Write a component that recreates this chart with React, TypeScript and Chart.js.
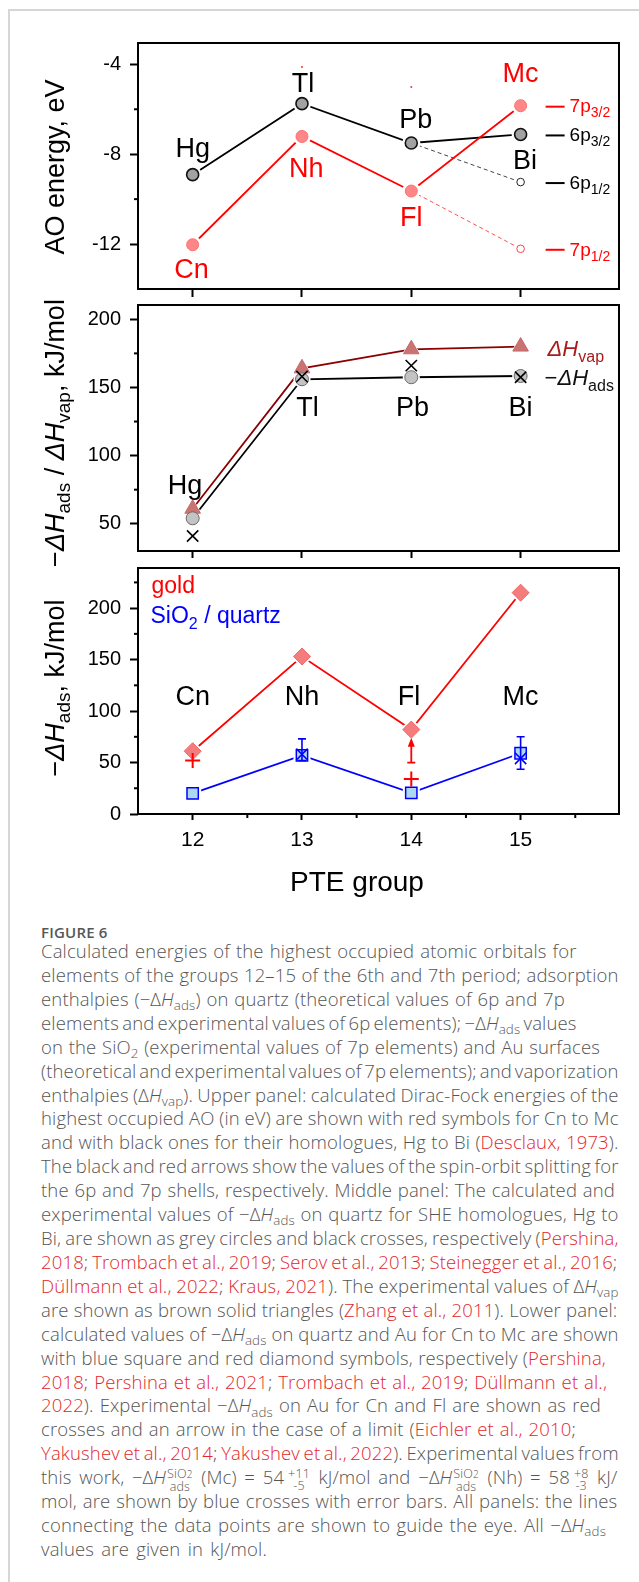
import React, { useEffect, useLayoutEffect, useRef } from 'react';
import { Chart, registerables } from 'chart.js';

Chart.register(...registerables);

const FONT = '"Liberation Sans", Arial, Helvetica, sans-serif';
const CAPTION_FONT = '"Open Sans", "Noto Sans", Lato, sans-serif';

// ---------- shared x axis (PTE group) ----------
const groups = [12, 13, 14, 15];
const groupMinorTicks = [12.5, 13.5, 14.5, 15.5];
const homologues = ['Hg', 'Tl', 'Pb', 'Bi'];
const superheavies = ['Cn', 'Nh', 'Fl', 'Mc'];

// ---------- panel 1: AO energy, eV ----------
const aoHomologues = [-8.91, -5.75, -7.5, -7.12]; // Hg 6s, Tl/Pb/Bi 6p (3/2 for Bi)
const aoSuperheavies = [-12.03, -7.21, -9.64, -5.84]; // Cn 7s, Nh/Fl/Mc 7p (3/2 for Mc)
const aoBi6p12 = -9.24;
const aoMc7p12 = -12.21;
const aoTraceGroups = [13, 14];
const aoTraceValues = [-4.12, -5.01];
const aoTicks = [-12, -8, -4];
const aoMinorTicks = [-10, -6];

// ---------- panel 2: -dH ads / dH vap, kJ/mol ----------
const vapHomologues = [61, 164, 178, 180];
const adsCalcHomologues = [54, 156, 157.5, 158.4];
const adsExpHomologues = [41, 158, 166, 157.5];
const midTicks = [50, 100, 150, 200];
const midMinorTicks = [75, 125, 175];

// ---------- panel 3: -dH ads, kJ/mol ----------
const adsAuCalc = [61, 153, 82, 215];
const adsSiO2Calc = [20, 57, 20.5, 59];
const adsAuExpGroups = [12, 14];
const adsAuExpValues = [52, 34];
const flAuLimitBase = 50;
const flAuLimitTip = 74;
const adsSiO2ExpGroups = [13, 15];
const adsSiO2ExpValues = [58, 54];
const adsSiO2ExpUpper = [73, 75];
const adsSiO2ExpLower = [52, 43.5];
const lowTicks = [0, 50, 100, 150, 200];
const lowMinorTicks = [25, 75, 125, 175, 225];

type Run = { t: string; size: number; italic?: boolean; dy?: number; color?: string };

function fontStr(r: Run) {
  return `${r.italic ? 'italic ' : ''}${r.size}px ${FONT}`;
}

function drawRuns(
  ctx: CanvasRenderingContext2D,
  runs: Run[],
  x: number,
  y: number,
  opts: { align?: 'left' | 'center'; rotate?: boolean; color?: string; cap: number }
) {
  ctx.save();
  ctx.translate(x, y);
  if (opts.rotate) ctx.rotate(-Math.PI / 2);
  const widths = runs.map((r) => {
    ctx.font = fontStr(r);
    return ctx.measureText(r.t).width;
  });
  const total = widths.reduce((a, b) => a + b, 0);
  let cx = opts.align === 'center' ? -total / 2 : 0;
  const base = 0.358 * opts.cap;
  ctx.textBaseline = 'alphabetic';
  ctx.textAlign = 'left';
  runs.forEach((r, i) => {
    ctx.font = fontStr(r);
    ctx.fillStyle = r.color || opts.color || '#000';
    ctx.fillText(r.t, cx, base + (r.dy || 0));
    cx += widths[i];
  });
  ctx.restore();
}

function drawFrame(chart: any) {
  const { ctx, chartArea: a } = chart;
  ctx.save();
  ctx.strokeStyle = '#000';
  ctx.lineWidth = 2;
  ctx.strokeRect(a.left, a.top, a.right - a.left, a.bottom - a.top);
  ctx.restore();
}

function drawMinorY(chart: any, values: number[], len = 4) {
  const { ctx, chartArea: a } = chart;
  const ys = chart.scales.y;
  ctx.save();
  ctx.strokeStyle = '#000';
  ctx.lineWidth = 2;
  values.forEach((v) => {
    const y = ys.getPixelForValue(v);
    ctx.beginPath();
    ctx.moveTo(a.left - len, y);
    ctx.lineTo(a.left, y);
    ctx.stroke();
  });
  ctx.restore();
}

function drawMinorX(chart: any, values: number[], len = 4) {
  const { ctx, chartArea: a } = chart;
  const xs = chart.scales.x;
  ctx.save();
  ctx.strokeStyle = '#000';
  ctx.lineWidth = 2;
  values.forEach((v) => {
    const x = xs.getPixelForValue(v);
    ctx.beginPath();
    ctx.moveTo(x, a.bottom);
    ctx.lineTo(x, a.bottom + len);
    ctx.stroke();
  });
  ctx.restore();
}

function drawLabel(chart: any, text: string, gx: number, v: number, color: string, size = 27) {
  const { ctx } = chart;
  const x = chart.scales.x.getPixelForValue(gx);
  const y = chart.scales.y.getPixelForValue(v);
  ctx.save();
  ctx.font = `${size}px ${FONT}`;
  ctx.fillStyle = color;
  ctx.textAlign = 'center';
  ctx.textBaseline = 'alphabetic';
  ctx.fillText(text, x, y + 0.358 * size);
  ctx.restore();
}

function pts(xs: number[], ys: number[]) {
  return xs.map((x, i) => ({ x, y: ys[i] }));
}

// a line without symbols
function lineDs(data: any[], color: string, width: number, dash: number[] = []) {
  return { data, showLine: true, borderColor: color, borderWidth: width, borderDash: dash, pointRadius: 0 };
}
// white halo under a symbol: gives the "gap to symbol" look of the original
function haloDs(data: any[], style: string, radius: number | number[]) {
  return {
    data,
    showLine: false,
    pointStyle: style,
    pointRadius: radius,
    pointBackgroundColor: '#fff',
    pointBorderColor: '#fff',
    pointBorderWidth: 0,
  };
}
function markerDs(data: any[], style: string, radius: number | number[], fill: string, stroke: string, bw: number) {
  return {
    data,
    showLine: false,
    pointStyle: style,
    pointRadius: radius,
    pointBackgroundColor: fill,
    pointBorderColor: stroke,
    pointBorderWidth: bw,
  };
}

function baseOptions(o: {
  yMin: number;
  yMax: number;
  yTicks: number[];
  showX: boolean;
  chartTop: number;
  chartBottom: number;
  canvasH: number;
  xTickLen: number;
}) {
  return {
    responsive: false,
    animation: false,
    devicePixelRatio: 1,
    events: [],
    layout: { autoPadding: false, padding: { left: 0, right: 20, top: o.chartTop, bottom: 0 } },
    plugins: { legend: { display: false }, tooltip: { enabled: false } },
    scales: {
      x: {
        type: 'linear',
        min: 11.5,
        max: 15.9,
        afterBuildTicks: (s: any) => {
          s.ticks = groups.map((v) => ({ value: v }));
        },
        afterFit: (s: any) => {
          s.height = o.canvasH - o.chartBottom;
        },
        ticks: {
          display: o.showX,
          font: { family: FONT, size: 21 },
          color: '#000',
          padding: 8,
          maxRotation: 0,
          autoSkip: false,
          callback: (v: any) => String(v),
        },
        grid: {
          display: true,
          drawOnChartArea: false,
          drawTicks: true,
          tickLength: o.xTickLen,
          tickWidth: 2,
          tickColor: '#000',
        },
        border: { display: false },
      },
      y: {
        type: 'linear',
        min: o.yMin,
        max: o.yMax,
        afterBuildTicks: (s: any) => {
          s.ticks = o.yTicks.map((v) => ({ value: v }));
        },
        afterFit: (s: any) => {
          s.width = 138;
        },
        ticks: {
          font: { family: FONT, size: 20 },
          color: '#000',
          padding: 9,
          autoSkip: false,
          callback: (v: any) => String(v),
        },
        grid: {
          display: true,
          drawOnChartArea: false,
          drawTicks: true,
          tickLength: 8,
          tickWidth: 2,
          tickColor: '#000',
        },
        border: { display: false },
      },
    },
  };
}

// ---------------- canvas placement (page pixels) ----------------
const P1 = { top: 0, height: 320, chartTop: 43, chartBottom: 289 };
const P2 = { top: 278, height: 300, chartTop: 27, chartBottom: 273 };
const P3 = { top: 538, height: 362, chartTop: 30, chartBottom: 276 };

function panel1Config(): any {
  const orbitalLabels = [
    { main: '7p', sub: '3/2', color: '#ff0000', v: aoSuperheavies[3] },
    { main: '6p', sub: '3/2', color: '#000', v: aoHomologues[3] },
    { main: '6p', sub: '1/2', color: '#000', v: aoBi6p12 },
    { main: '7p', sub: '1/2', color: '#ff0000', v: aoMc7p12 },
  ];
  const homLabelAt = [
    [12.0, -7.7],
    [13.01, -4.8],
    [14.04, -6.42],
    [15.04, -8.24],
  ];
  const sheLabelAt = [
    [11.99, -13.1],
    [13.04, -8.57],
    [14.0, -10.77],
    [15.0, -4.34],
  ];
  const she = pts(groups, aoSuperheavies);
  const hom = pts(groups, aoHomologues);
  const red12 = pts([14, 15], [aoSuperheavies[2], aoMc7p12]);
  const blk12 = pts([14, 15], [aoHomologues[2], aoBi6p12]);
  return {
    type: 'scatter',
    data: {
      datasets: [
        markerDs(pts(aoTraceGroups, aoTraceValues), 'circle', 1, '#ff3030', '#ff3030', 0),
        markerDs(she, 'circle', 6, '#ff8686', '#ff7070', 1),
        markerDs(hom, 'circle', 6, '#a2a2a2', '#111', 1.6),
        markerDs(red12, 'circle', [0, 3.8], '#fff', '#ff4040', 1),
        markerDs(blk12, 'circle', [0, 3.8], '#fff', '#222', 1),
        haloDs(she, 'circle', 9),
        haloDs(hom, 'circle', 9),
        haloDs(red12, 'circle', [9, 6]),
        haloDs(blk12, 'circle', [9, 6]),
        lineDs(she, '#ff0000', 1.8),
        lineDs(hom, '#000', 1.8),
        lineDs(red12, '#ff5050', 1, [4, 3]),
        lineDs(blk12, '#444', 1, [4, 3]),
      ],
    },
    options: baseOptions({
      yMin: -14,
      yMax: -3.05,
      yTicks: aoTicks,
      showX: false,
      chartTop: P1.chartTop,
      chartBottom: P1.chartBottom,
      canvasH: P1.height,
      xTickLen: 8,
    }),
    plugins: [
      {
        id: 'p1',
        afterDraw(chart: any) {
          const { ctx } = chart;
          drawFrame(chart);
          drawMinorY(chart, aoMinorTicks);
          homologues.forEach((t, i) => drawLabel(chart, t, homLabelAt[i][0], homLabelAt[i][1], '#000'));
          superheavies.forEach((t, i) => drawLabel(chart, t, sheLabelAt[i][0], sheLabelAt[i][1], '#ff0000'));
          const x15 = chart.scales.x.getPixelForValue(15);
          orbitalLabels.forEach((l) => {
            const y = chart.scales.y.getPixelForValue(l.v);
            ctx.save();
            ctx.strokeStyle = l.color;
            ctx.lineWidth = 2;
            ctx.beginPath();
            ctx.moveTo(x15 + 25, y + 1);
            ctx.lineTo(x15 + 44, y + 1);
            ctx.stroke();
            ctx.restore();
            drawRuns(
              ctx,
              [
                { t: l.main, size: 19 },
                { t: l.sub, size: 14, dy: 5 },
              ],
              x15 + 49,
              y,
              { color: l.color, cap: 19 }
            );
          });
          drawRuns(ctx, [{ t: 'AO energy, eV', size: 27 }], 54, 167 - P1.top, {
            align: 'center',
            rotate: true,
            cap: 27,
          });
        },
      },
    ],
  };
}

function panel2Config(): any {
  const labelAt = [
    [11.93, 79],
    [13.05, 136],
    [14.01, 136],
    [15.0, 136],
  ];
  const vap = pts(groups, vapHomologues);
  const calc = pts(groups, adsCalcHomologues);
  return {
    type: 'scatter',
    data: {
      datasets: [
        markerDs(pts(groups, adsExpHomologues), 'crossRot', 8, '#000', '#000', 1.6),
        markerDs(calc, 'circle', 6.5, '#c3c3c3', '#6a6a6a', 1),
        markerDs(vap, 'triangle', 9, '#c97373', '#c46a6a', 1),
        haloDs(calc, 'circle', 8.5),
        haloDs(vap, 'triangle', 11),
        lineDs(calc, '#000', 1.8),
        lineDs(vap, '#8b0000', 1.8),
      ],
    },
    options: baseOptions({
      yMin: 30,
      yMax: 210.5,
      yTicks: midTicks,
      showX: false,
      chartTop: P2.chartTop,
      chartBottom: P2.chartBottom,
      canvasH: P2.height,
      xTickLen: 7,
    }),
    plugins: [
      {
        id: 'p2',
        afterDraw(chart: any) {
          const { ctx } = chart;
          drawFrame(chart);
          drawMinorY(chart, midMinorTicks);
          homologues.forEach((t, i) => drawLabel(chart, t, labelAt[i][0], labelAt[i][1], '#000'));
          const x15 = chart.scales.x.getPixelForValue(15);
          const yVap = chart.scales.y.getPixelForValue(vapHomologues[3]);
          const yAds = chart.scales.y.getPixelForValue(adsCalcHomologues[3]);
          drawRuns(
            ctx,
            [
              { t: 'ΔH', size: 22, italic: true },
              { t: 'vap', size: 16, dy: 6 },
            ],
            x15 + 27,
            yVap + 1.5,
            { color: '#a81c1c', cap: 22 }
          );
          drawRuns(
            ctx,
            [
              { t: '−', size: 22 },
              { t: 'ΔH', size: 22, italic: true },
              { t: 'ads', size: 16, dy: 6 },
            ],
            x15 + 24,
            yAds + 1.5,
            { color: '#111', cap: 22 }
          );
          drawRuns(
            ctx,
            [
              { t: '−', size: 27 },
              { t: 'ΔH', size: 27, italic: true },
              { t: 'ads', size: 19, dy: 6 },
              { t: ' / ', size: 27 },
              { t: 'ΔH', size: 27, italic: true },
              { t: 'vap', size: 19, dy: 6 },
              { t: ', kJ/mol', size: 27 },
            ],
            54,
            433 - P2.top,
            { align: 'center', rotate: true, cap: 27 }
          );
        },
      },
    ],
  };
}

function panel3Config(): any {
  const labelAt = [
    [12.0, 115],
    [13.0, 115],
    [13.98, 115],
    [15.0, 115],
  ];
  const sio2 = pts(groups, adsSiO2Calc);
  const au = pts(groups, adsAuCalc);
  return {
    type: 'scatter',
    data: {
      datasets: [
        markerDs(pts(adsSiO2ExpGroups, adsSiO2ExpValues), 'crossRot', 8, '#0000ff', '#0000ff', 1.6),
        markerDs(pts(adsAuExpGroups, adsAuExpValues), 'cross', 7.5, '#ff0000', '#ff0000', 2),
        markerDs(sio2, 'rect', 8, '#acd9ef', '#0000ff', 1.5),
        markerDs(au, 'rectRot', 8.5, '#f47c7c', '#f06868', 1),
        haloDs(sio2, 'rect', 12),
        haloDs(au, 'rectRot', 11.5),
        lineDs(sio2, '#0000ff', 1.8),
        lineDs(au, '#ff0000', 1.8),
      ],
    },
    options: baseOptions({
      yMin: 0,
      yMax: 239,
      yTicks: lowTicks,
      showX: true,
      chartTop: P3.chartTop,
      chartBottom: P3.chartBottom,
      canvasH: P3.height,
      xTickLen: 6,
    }),
    plugins: [
      {
        id: 'p3',
        afterDatasetsDraw(chart: any) {
          const { ctx } = chart;
          const xs = chart.scales.x;
          const ys = chart.scales.y;
          // error bars of the experimental SiO2 values
          ctx.save();
          ctx.strokeStyle = '#0000ff';
          ctx.lineWidth = 1.6;
          adsSiO2ExpGroups.forEach((g, i) => {
            const x = xs.getPixelForValue(g);
            const yt = ys.getPixelForValue(adsSiO2ExpUpper[i]);
            const yb = ys.getPixelForValue(adsSiO2ExpLower[i]);
            ctx.beginPath();
            ctx.moveTo(x, yt);
            ctx.lineTo(x, yb);
            ctx.moveTo(x - 4, yt);
            ctx.lineTo(x + 4, yt);
            ctx.moveTo(x - 4, yb);
            ctx.lineTo(x + 4, yb);
            ctx.stroke();
          });
          ctx.restore();
          // lower-limit arrow for Fl on gold
          const xf = xs.getPixelForValue(14);
          const yb = ys.getPixelForValue(flAuLimitBase);
          const yt = ys.getPixelForValue(flAuLimitTip);
          ctx.save();
          ctx.strokeStyle = '#ff0000';
          ctx.fillStyle = '#ff0000';
          ctx.lineWidth = 1.8;
          ctx.beginPath();
          ctx.moveTo(xf, yb);
          ctx.lineTo(xf, yt + 6);
          ctx.moveTo(xf - 4, yb);
          ctx.lineTo(xf + 4, yb);
          ctx.stroke();
          ctx.beginPath();
          ctx.moveTo(xf, yt);
          ctx.lineTo(xf - 3.5, yt + 9);
          ctx.lineTo(xf + 3.5, yt + 9);
          ctx.closePath();
          ctx.fill();
          ctx.restore();
        },
        afterDraw(chart: any) {
          const { ctx, chartArea: a } = chart;
          drawFrame(chart);
          drawMinorY(chart, lowMinorTicks);
          drawMinorX(chart, groupMinorTicks, 4);
          superheavies.forEach((t, i) => drawLabel(chart, t, labelAt[i][0], labelAt[i][1], '#000'));
          drawRuns(ctx, [{ t: 'gold', size: 23 }], a.left + 13.5, a.top + 17, {
            color: '#ff0000',
            cap: 23,
          });
          drawRuns(
            ctx,
            [
              { t: 'SiO', size: 23 },
              { t: '2', size: 16, dy: 6 },
              { t: ' / quartz', size: 23 },
            ],
            a.left + 12.5,
            a.top + 47,
            { color: '#0000ff', cap: 23 }
          );
          drawRuns(
            ctx,
            [
              { t: '−', size: 27 },
              { t: 'ΔH', size: 27, italic: true },
              { t: 'ads', size: 19, dy: 6 },
              { t: ', kJ/mol', size: 27 },
            ],
            54,
            688 - P3.top,
            { align: 'center', rotate: true, cap: 27 }
          );
          drawRuns(ctx, [{ t: 'PTE group', size: 28 }], 357, 881 - P3.top, { align: 'center', cap: 28 });
        },
      },
    ],
  };
}

function ChartCanvas({ top, height, make }: { top: number; height: number; make: () => any }) {
  const ref = useRef<HTMLCanvasElement>(null);
  useEffect(() => {
    if (!ref.current) return;
    const chart = new Chart(ref.current, make());
    return () => chart.destroy();
  }, []);
  return (
    <canvas
      ref={ref}
      width={639}
      height={height}
      style={{ position: 'absolute', left: 0, top, width: 639, height }}
    />
  );
}

// ---------------- caption ----------------
const RED = '#e2272b';
const I = ({ children }: any) => <i>{children}</i>;
const Sub = ({ children }: any) => (
  <span style={{ fontSize: '0.72em', position: 'relative', top: '0.32em' }}>{children}</span>
);
const R = ({ children }: any) => <span style={{ color: RED }}>{children}</span>;
const SupSub = ({ sup, sub, gap = 1 }: any) => (
  <span
    style={{
      display: 'inline-flex',
      flexDirection: 'column',
      fontSize: 12.5,
      lineHeight: '11.5px',
      verticalAlign: '6px',
      marginLeft: gap,
      marginRight: 1,
      textAlign: 'center',
    }}
  >
    <span>{sup}</span>
    <span>{sub}</span>
  </span>
);
const SiO2Sup = (
  <span>
    SiO<span style={{ fontSize: '0.8em' }}>2</span>
  </span>
);
const dH = (
  <>
    −Δ<I>H</I>
  </>
);

const captionLines: { end: number; node: any }[] = [
  { end: 576.6, node: <>Calculated energies of the highest occupied atomic orbitals for</> },
  { end: 618.6, node: <>elements of the groups 12–15 of the 6th and 7th period; adsorption</> },
  { end: 565, node: <>enthalpies ({dH}<Sub>ads</Sub>) on quartz (theoretical values of 6p and 7p</> },
  { end: 576.6, node: <>elements and experimental values of 6p elements); {dH}<Sub>ads</Sub> values</> },
  { end: 600, node: <>on the SiO<Sub>2</Sub> (experimental values of 7p elements) and Au surfaces</> },
  { end: 618.6, node: <>(theoretical and experimental values of 7p elements); and vaporization</> },
  { end: 618.6, node: <>enthalpies (Δ<I>H</I><Sub>vap</Sub>). Upper panel: calculated Dirac-Fock energies of the</> },
  { end: 618.6, node: <>highest occupied AO (in eV) are shown with red symbols for Cn to Mc</> },
  { end: 618.6, node: <>and with black ones for their homologues, Hg to Bi (<R>Desclaux, 1973</R>).</> },
  { end: 618.6, node: <>The black and red arrows show the values of the spin-orbit splitting for</> },
  { end: 615, node: <>the 6p and 7p shells, respectively. Middle panel: The calculated and</> },
  { end: 618.6, node: <>experimental values of {dH}<Sub>ads</Sub> on quartz for SHE homologues, Hg to</> },
  { end: 618.6, node: <>Bi, are shown as grey circles and black crosses, respectively (<R>Pershina,</R></> },
  {
    end: 617.4,
    node: (
      <>
        <R>2018</R>; <R>Trombach et al., 2019</R>; <R>Serov et al., 2013</R>; <R>Steinegger et al., 2016</R>;
      </>
    ),
  },
  {
    end: 618.6,
    node: (
      <>
        <R>Düllmann et al., 2022</R>; <R>Kraus, 2021</R>). The experimental values of Δ<I>H</I>
        <Sub>vap</Sub>
      </>
    ),
  },
  { end: 617.4, node: <>are shown as brown solid triangles (<R>Zhang et al., 2011</R>). Lower panel:</> },
  { end: 618.6, node: <>calculated values of {dH}<Sub>ads</Sub> on quartz and Au for Cn to Mc are shown</> },
  { end: 606, node: <>with blue square and red diamond symbols, respectively (<R>Pershina,</R></> },
  {
    end: 607,
    node: (
      <>
        <R>2018</R>; <R>Pershina et al., 2021</R>; <R>Trombach et al., 2019</R>; <R>Düllmann et al.,</R>
      </>
    ),
  },
  { end: 601, node: <><R>2022</R>). Experimental {dH}<Sub>ads</Sub> on Au for Cn and Fl are shown as red</> },
  { end: 576, node: <>crosses and an arrow in the case of a limit (<R>Eichler et al., 2010</R>;</> },
  {
    end: 618.6,
    node: (
      <>
        <R>Yakushev et al., 2014</R>; <R>Yakushev et al., 2022</R>). Experimental values from
      </>
    ),
  },
  {
    end: 617.4,
    node: (
      <>
        this work, {dH}
        <SupSub sup={SiO2Sup} sub="ads" /> (Mc) = 54
        <SupSub sup="+11" sub="-5" gap={4} /> kJ/mol and {dH}
        <SupSub sup={SiO2Sup} sub="ads" /> (Nh) = 58
        <SupSub sup="+8" sub="-3" gap={4} /> kJ/
      </>
    ),
  },
  { end: 617.4, node: <>mol, are shown by blue crosses with error bars. All panels: the lines</> },
  { end: 606, node: <>connecting the data points are shown to guide the eye. All {dH}<Sub>ads</Sub></> },
  { end: 267, node: <>values are given in kJ/mol.</> },
];

function CaptionLine({ top, end, children }: any) {
  const ref = useRef<HTMLSpanElement>(null);
  useLayoutEffect(() => {
    const el = ref.current;
    if (!el) return;
    el.style.wordSpacing = '0px';
    const w = el.getBoundingClientRect().width;
    const n = ((el.textContent || '').match(/ /g) || []).length;
    const target = end - 41;
    if (n > 0) el.style.wordSpacing = `${(target - w) / n}px`;
  });
  return (
    <div
      style={{
        position: 'absolute',
        left: 41,
        top,
        height: 24,
        lineHeight: '24px',
        whiteSpace: 'nowrap',
      }}
    >
      <span ref={ref}>{children}</span>
    </div>
  );
}

export default function App() {
  return (
    <div
      style={{
        position: 'absolute',
        left: 0,
        top: 0,
        width: 639,
        height: 1582,
        overflow: 'hidden',
        background: '#fff',
      }}
    >
      <div
        style={{
          position: 'absolute',
          left: 8,
          top: 9,
          width: 800,
          height: 1800,
          borderTop: '2px solid #d6d6d6',
          borderLeft: '2px solid #d6d6d6',
        }}
      />
      <ChartCanvas top={P1.top} height={P1.height} make={panel1Config} />
      <ChartCanvas top={P2.top} height={P2.height} make={panel2Config} />
      <ChartCanvas top={P3.top} height={P3.height} make={panel3Config} />
      <div
        style={{
          position: 'absolute',
          left: 41,
          top: 922,
          lineHeight: '20px',
          fontFamily: CAPTION_FONT,
          fontWeight: 600,
          fontSize: 15,
          letterSpacing: 0.2,
          color: '#575757',
        }}
      >
        FIGURE 6
      </div>
      <div
        style={{
          fontFamily: CAPTION_FONT,
          fontSize: 18.5,
          letterSpacing: 0.15,
          fontWeight: 300,
          color: '#555',
        }}
      >
        {captionLines.map((l, i) => (
          <CaptionLine key={i} top={951 + i * 23.92 - 12} end={l.end}>
            {l.node}
          </CaptionLine>
        ))}
      </div>
    </div>
  );
}
